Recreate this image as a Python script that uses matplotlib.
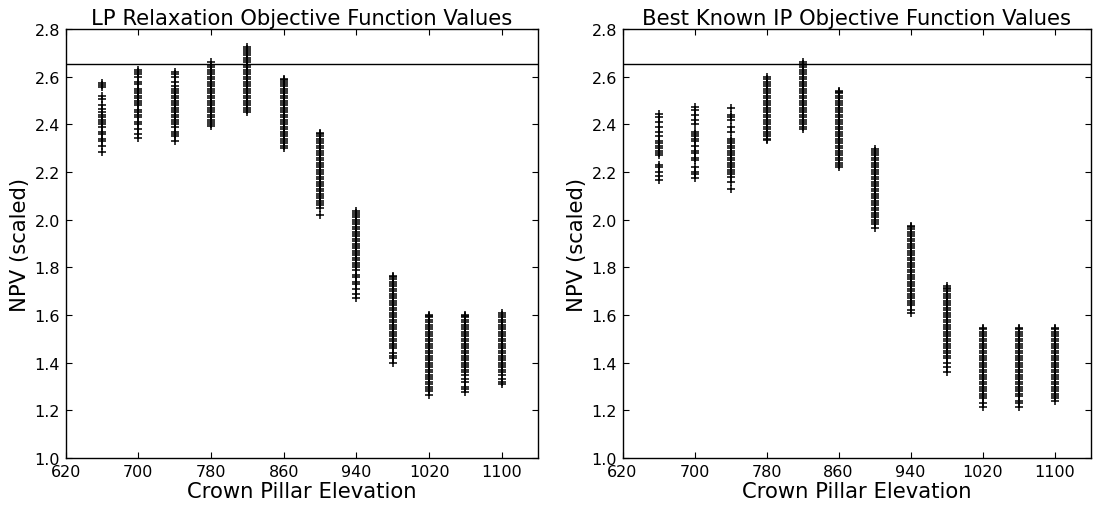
import matplotlib
matplotlib.use('Agg')
import matplotlib.pyplot as plt

# Crown pillar elevations (one column of runs per elevation)
elevations = [660, 700, 740, 780, 820, 860, 900, 940, 980, 1020, 1060, 1100]
reference_npv = 2.655

# LP relaxation values, read per elevation
lp_660 = [2.575, 2.565, 2.555, 2.52, 2.505, 2.48, 2.465, 2.45, 2.44, 2.43, 2.42, 2.41,
          2.40, 2.39, 2.37, 2.36, 2.34, 2.33, 2.31, 2.285]
lp_700 = [2.63, 2.62, 2.61, 2.60, 2.58, 2.57, 2.55, 2.54, 2.53, 2.52, 2.51, 2.50,
          2.49, 2.48, 2.46, 2.45, 2.44, 2.43, 2.41, 2.40, 2.38, 2.36, 2.345]
lp_740 = [2.62, 2.61, 2.60, 2.58, 2.56, 2.55, 2.54, 2.53, 2.52, 2.51, 2.50, 2.49,
          2.48, 2.47, 2.46, 2.45, 2.44, 2.43, 2.42, 2.41, 2.40, 2.39, 2.37, 2.36,
          2.35, 2.33]
lp_780 = [2.66, 2.65, 2.64, 2.63, 2.62, 2.61, 2.60, 2.59, 2.58, 2.57, 2.56, 2.55,
          2.54, 2.53, 2.52, 2.51, 2.50, 2.49, 2.48, 2.47, 2.46, 2.45, 2.44, 2.43,
          2.42, 2.41, 2.40, 2.395]
lp_820 = [2.725, 2.715, 2.71, 2.70, 2.69, 2.68, 2.67, 2.66, 2.65, 2.64, 2.63, 2.62,
          2.61, 2.60, 2.59, 2.58, 2.57, 2.56, 2.55, 2.54, 2.53, 2.52, 2.51, 2.50,
          2.49, 2.48, 2.47, 2.46, 2.45]
lp_860 = [2.59, 2.585, 2.58, 2.57, 2.56, 2.55, 2.54, 2.53, 2.52, 2.51, 2.50, 2.49,
          2.48, 2.47, 2.46, 2.45, 2.44, 2.43, 2.42, 2.41, 2.40, 2.39, 2.38, 2.37,
          2.36, 2.35, 2.34, 2.33, 2.32, 2.31, 2.30]
lp_900 = [2.365, 2.36, 2.35, 2.34, 2.33, 2.32, 2.31, 2.30, 2.29, 2.28, 2.27, 2.26,
          2.25, 2.24, 2.23, 2.22, 2.21, 2.20, 2.19, 2.18, 2.17, 2.16, 2.15, 2.14,
          2.13, 2.12, 2.11, 2.10, 2.09, 2.08, 2.07, 2.06, 2.05, 2.02]
lp_940 = [2.035, 2.03, 2.02, 2.01, 2.00, 1.99, 1.98, 1.97, 1.96, 1.95, 1.94, 1.93,
          1.92, 1.91, 1.90, 1.89, 1.88, 1.87, 1.86, 1.85, 1.84, 1.83, 1.82, 1.81,
          1.80, 1.79, 1.77, 1.76, 1.74, 1.73, 1.71, 1.69, 1.67]
lp_980 = [1.765, 1.76, 1.75, 1.74, 1.73, 1.72, 1.71, 1.70, 1.69, 1.68, 1.67, 1.66,
          1.65, 1.64, 1.63, 1.62, 1.61, 1.60, 1.59, 1.58, 1.57, 1.56, 1.55, 1.54,
          1.53, 1.52, 1.51, 1.50, 1.49, 1.48, 1.47, 1.46, 1.44, 1.43, 1.42, 1.40]
lp_1020 = [1.60, 1.595, 1.59, 1.58, 1.57, 1.56, 1.55, 1.54, 1.53, 1.52, 1.51, 1.50,
           1.49, 1.48, 1.47, 1.46, 1.45, 1.44, 1.43, 1.42, 1.41, 1.40, 1.39, 1.38,
           1.37, 1.36, 1.35, 1.34, 1.33, 1.32, 1.31, 1.30, 1.29, 1.28, 1.265]
lp_1060 = [1.60, 1.595, 1.59, 1.58, 1.57, 1.56, 1.55, 1.54, 1.53, 1.52, 1.51, 1.50,
           1.49, 1.48, 1.47, 1.46, 1.45, 1.44, 1.43, 1.42, 1.41, 1.40, 1.39, 1.38,
           1.37, 1.36, 1.35, 1.33, 1.32, 1.30, 1.29, 1.275]
lp_1100 = [1.61, 1.60, 1.59, 1.58, 1.57, 1.56, 1.55, 1.54, 1.53, 1.52, 1.51, 1.50,
           1.49, 1.48, 1.47, 1.46, 1.45, 1.44, 1.43, 1.42, 1.41, 1.40, 1.39, 1.38,
           1.37, 1.36, 1.35, 1.33, 1.32, 1.31]

# Best known IP values, read per elevation
ip_660 = [2.445, 2.43, 2.41, 2.39, 2.37, 2.35, 2.33, 2.32, 2.31, 2.30, 2.29, 2.28,
          2.27, 2.23, 2.22, 2.20, 2.185, 2.165]
ip_700 = [2.475, 2.46, 2.44, 2.42, 2.40, 2.37, 2.36, 2.35, 2.34, 2.33, 2.31, 2.29,
          2.28, 2.26, 2.25, 2.22, 2.20, 2.19, 2.175]
ip_740 = [2.47, 2.44, 2.43, 2.42, 2.39, 2.37, 2.34, 2.33, 2.32, 2.31, 2.30, 2.29,
          2.28, 2.27, 2.26, 2.25, 2.24, 2.23, 2.22, 2.21, 2.20, 2.19, 2.18, 2.16, 2.13]
ip_780 = [2.60, 2.59, 2.58, 2.57, 2.56, 2.55, 2.54, 2.53, 2.52, 2.51, 2.50, 2.49,
          2.48, 2.47, 2.46, 2.45, 2.44, 2.43, 2.42, 2.41, 2.40, 2.39, 2.38, 2.37,
          2.36, 2.35, 2.34, 2.335]
ip_820 = [2.66, 2.655, 2.65, 2.64, 2.63, 2.62, 2.61, 2.60, 2.59, 2.58, 2.57, 2.56,
          2.55, 2.54, 2.53, 2.52, 2.51, 2.50, 2.49, 2.48, 2.47, 2.46, 2.45, 2.44,
          2.43, 2.42, 2.41, 2.40, 2.39, 2.38]
ip_860 = [2.54, 2.535, 2.53, 2.52, 2.51, 2.50, 2.49, 2.48, 2.47, 2.46, 2.45, 2.44,
          2.43, 2.42, 2.41, 2.40, 2.39, 2.38, 2.37, 2.36, 2.35, 2.34, 2.33, 2.32,
          2.31, 2.30, 2.29, 2.28, 2.27, 2.26, 2.25, 2.24, 2.23, 2.22]
ip_900 = [2.295, 2.29, 2.28, 2.27, 2.26, 2.25, 2.24, 2.23, 2.22, 2.21, 2.20, 2.19,
          2.18, 2.17, 2.16, 2.15, 2.14, 2.13, 2.12, 2.11, 2.10, 2.09, 2.08, 2.07,
          2.06, 2.05, 2.04, 2.03, 2.02, 2.01, 2.00, 1.99, 1.98, 1.965]
ip_940 = [1.975, 1.97, 1.96, 1.95, 1.94, 1.93, 1.92, 1.91, 1.90, 1.89, 1.88, 1.87,
          1.86, 1.85, 1.84, 1.83, 1.82, 1.81, 1.80, 1.79, 1.78, 1.77, 1.76, 1.75,
          1.74, 1.73, 1.72, 1.71, 1.70, 1.69, 1.68, 1.67, 1.66, 1.65, 1.64, 1.62, 1.61]
ip_980 = [1.72, 1.715, 1.71, 1.70, 1.69, 1.68, 1.67, 1.66, 1.65, 1.64, 1.63, 1.62,
          1.61, 1.60, 1.59, 1.58, 1.57, 1.56, 1.55, 1.54, 1.53, 1.52, 1.51, 1.50,
          1.49, 1.48, 1.47, 1.46, 1.45, 1.44, 1.43, 1.42, 1.40, 1.38, 1.36]
ip_1020 = [1.545, 1.54, 1.53, 1.52, 1.51, 1.50, 1.49, 1.48, 1.47, 1.46, 1.45, 1.44,
           1.43, 1.42, 1.41, 1.40, 1.39, 1.38, 1.37, 1.36, 1.35, 1.34, 1.33, 1.32,
           1.31, 1.30, 1.29, 1.28, 1.27, 1.26, 1.25, 1.23, 1.215]
ip_1060 = [1.545, 1.54, 1.53, 1.52, 1.51, 1.50, 1.49, 1.48, 1.47, 1.46, 1.45, 1.44,
           1.43, 1.42, 1.41, 1.40, 1.39, 1.38, 1.37, 1.36, 1.35, 1.34, 1.33, 1.32,
           1.31, 1.30, 1.29, 1.28, 1.27, 1.26, 1.24, 1.23, 1.215]
ip_1100 = [1.545, 1.54, 1.53, 1.52, 1.51, 1.50, 1.49, 1.48, 1.47, 1.46, 1.45, 1.44,
           1.43, 1.42, 1.41, 1.40, 1.39, 1.38, 1.37, 1.36, 1.35, 1.34, 1.33, 1.32,
           1.31, 1.30, 1.29, 1.28, 1.27, 1.26, 1.25, 1.24]

lp_values = [lp_660, lp_700, lp_740, lp_780, lp_820, lp_860,
             lp_900, lp_940, lp_980, lp_1020, lp_1060, lp_1100]
ip_values = [ip_660, ip_700, ip_740, ip_780, ip_820, ip_860,
             ip_900, ip_940, ip_980, ip_1020, ip_1060, ip_1100]

plt.rcParams['font.family'] = 'DejaVu Sans'

fig = plt.figure(figsize=(10.96, 5.10), dpi=100)
ax1 = fig.add_axes([0.060, 0.100, 0.431, 0.841])
ax2 = fig.add_axes([0.568, 0.100, 0.427, 0.841])

for ax, values, title in [(ax1, lp_values, 'LP Relaxation Objective Function Values'),
                          (ax2, ip_values, 'Best Known IP Objective Function Values')]:
    for elev, ys in zip(elevations, values):
        ax.plot([elev] * len(ys), ys, 'k+', markersize=5.5, markeredgewidth=1.1)
    ax.axhline(reference_npv, color='k', linewidth=1)
    ax.set_xlim(620, 1140)
    ax.set_ylim(1.0, 2.8)
    ax.set_xticks([620, 700, 780, 860, 940, 1020, 1100])
    ax.set_yticks([1.0, 1.2, 1.4, 1.6, 1.8, 2.0, 2.2, 2.4, 2.6, 2.8])
    ax.tick_params(direction='in', top=True, right=True, length=4, width=0.8,
                   labelsize=11.5, pad=4)
    ax.set_xlabel('Crown Pillar Elevation', fontsize=15.2, labelpad=2)
    ax.set_ylabel('NPV (scaled)', fontsize=15.2, labelpad=3)
    ax.set_title(title, fontsize=15.2, pad=3.5)
    for sp in ax.spines.values():
        sp.set_linewidth(1.0)

fig.savefig('out.png', dpi=100)
